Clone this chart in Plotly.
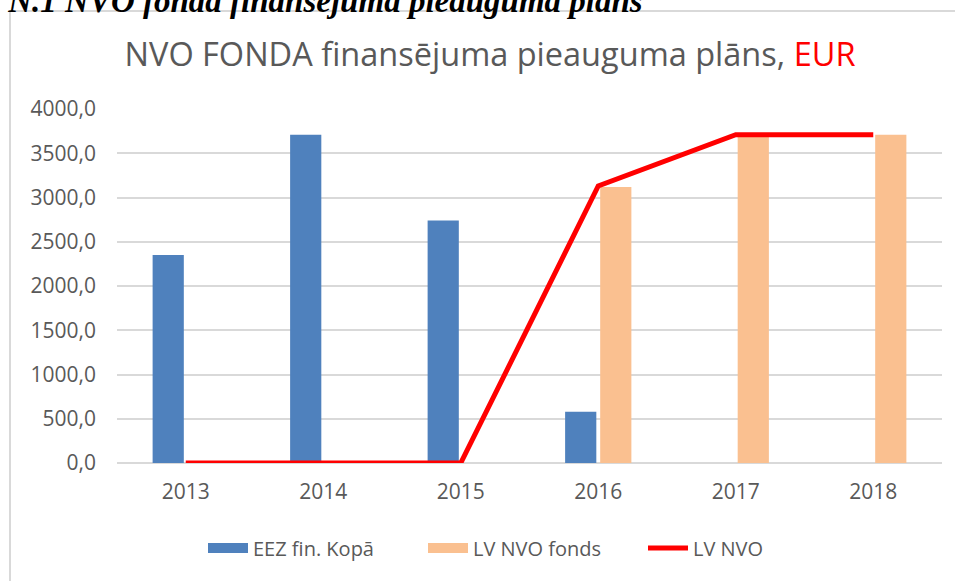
import plotly.graph_objects as go

years = ["2013", "2014", "2015", "2016", "2017", "2018"]
eez_fin_kopa = [2350, 3710, 2740, 580, None, None]
lv_nvo_fonds = [None, None, None, 3120, 3710, 3710]
lv_nvo = [0, 0, 0, 3130, 3710, 3710]

BLUE = "#4f81bd"
ORANGE = "#fac090"
RED = "#ff0000"
GRAY = "#595959"
FONT = "Open Sans"

W, H = 955, 581
L, R, T, B = 117, 13, 109, 118
pw, ph = W - L - R, H - T - B

def px_x(x):
    return (x - L) / pw

def px_y(y):
    return (H - B - y) / ph

fig = go.Figure()
fig.add_trace(go.Bar(x=years, y=eez_fin_kopa, name="EEZ fin. Kopā",
                     marker=dict(color=BLUE, line=dict(width=0)), showlegend=False))
fig.add_trace(go.Bar(x=years, y=lv_nvo_fonds, name="LV NVO fonds",
                     marker=dict(color=ORANGE, line=dict(width=0)), showlegend=False))
fig.add_trace(go.Scatter(x=years, y=lv_nvo, name="LV NVO", mode="lines",
                         line=dict(color=RED, width=5), showlegend=False))
# legend proxies (wide swatches like the original)
fig.add_trace(go.Scatter(x=[None], y=[None], name="EEZ fin. Kopā", mode="lines",
                         line=dict(color=BLUE, width=15)))
fig.add_trace(go.Scatter(x=[None], y=[None], name="LV NVO fonds", mode="lines",
                         line=dict(color=ORANGE, width=15)))
fig.add_trace(go.Scatter(x=[None], y=[None], name="LV NVO", mode="lines",
                         line=dict(color=RED, width=5)))

fig.update_layout(
    width=W, height=H,
    margin=dict(l=L, r=R, t=T, b=B),
    paper_bgcolor="white", plot_bgcolor="white",
    separators=", ",
    font=dict(family=FONT, color=GRAY, size=20),
    barmode="group", bargap=0.49, bargroupgap=0.11,
    title=dict(
        text="NVO FONDA finansējuma pieauguma plāns, <span style='color:#ff0000'>EUR</span>",
        font=dict(family=FONT, size=32.5, color=GRAY),
        x=490 / W, xanchor="center", y=1 - 55 / H, yanchor="middle", xref="container", yref="container",
    ),
    legend=dict(orientation="h", x=px_x(533), xanchor="center", y=px_y(548), yanchor="middle",
                font=dict(family=FONT, size=20, color=GRAY), itemwidth=40, tracegroupgap=0,
                entrywidth=165),
    xaxis=dict(type="category", showgrid=False, showline=False, ticks="",
               tickfont=dict(family=FONT, size=21, color=GRAY), ticklabelstandoff=14),
    yaxis=dict(range=[0, 4000], dtick=500, tickformat=".1f", showgrid=True,
               gridcolor="#d9d9d9", gridwidth=2, zeroline=True, zerolinecolor="#d9d9d9",
               zerolinewidth=2, showline=False, ticks="",
               tickfont=dict(family=FONT, size=21, color=GRAY), ticklabelstandoff=20),
    shapes=[dict(type="rect", xref="paper", yref="paper",
                 x0=px_x(10), x1=px_x(962), y0=px_y(590), y1=px_y(11),
                 line=dict(color="#d9d9d9", width=2), fillcolor="rgba(0,0,0,0)", layer="below")],
    annotations=[dict(text="<b><i>Attēls N.1 NVO fonda finansējuma pieauguma plāns</i></b>",
                      xref="paper", yref="paper", x=px_x(645), xanchor="right",
                      y=px_y(21), yanchor="bottom", showarrow=False,
                      font=dict(family="Liberation Serif", size=33, color="black"))],
)

fig.write_html("out.html", config={"displayModeBar": False},
               post_script="document.body.style.margin='0';")
